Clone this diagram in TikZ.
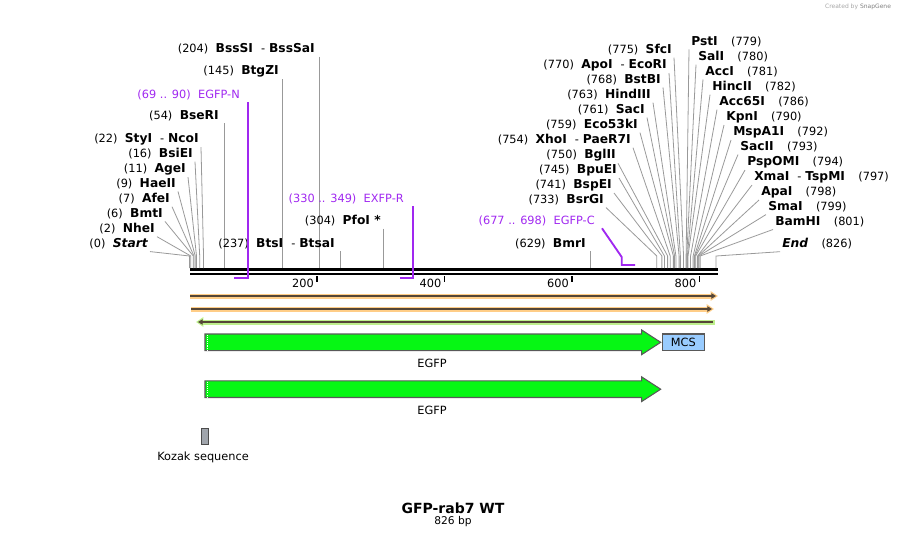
\documentclass[tikz,border=0pt]{standalone}
\usepackage{fontspec}
\setmainfont{DejaVu Sans}
\usetikzlibrary{arrows.meta,calc}
\definecolor{primer}{RGB}{160,40,240}
\definecolor{fwdband}{RGB}{255,205,135}
\definecolor{revband}{RGB}{190,240,140}
\definecolor{bandline}{RGB}{85,70,55}
\definecolor{cdsgreen}{RGB}{6,247,20}
\definecolor{mcsblue}{RGB}{153,204,255}
\definecolor{kozakgrey}{RGB}{160,165,172}
\newcommand\en[1]{{\fontsize{9.2}{11}\selectfont\bfseries #1}}
\newcommand\sepdash{\hspace{6pt}-\hspace{3pt}}

\begin{document}
\begin{tikzpicture}[x=0.75pt,y=-0.75pt,
  lbl/.style={font=\fontsize{8.5}{10}\selectfont, inner sep=1.5pt},
  lead/.style={gray!80, line width=0.6pt},
  primerline/.style={primer, line width=1.4pt},
  band/.style={#1, line width=3.75pt, -{Triangle[length=5.5pt,width=7pt]}},
  bandcore/.style={bandline, line width=1.4pt, -{Triangle[length=3.5pt,width=4pt]}},
  cds/.style={draw=black!65, fill=cdsgreen, line width=0.8pt}]
\useasboundingbox (0,0) rectangle (909,539);
\coordinate (axis) at (0,268);

\draw[line width=2.4pt] (190,269.5) -- (718,269.5);
\draw[line width=1.5pt] (190,273.8) -- (718,273.8);
\foreach \t in {200,400,600,800}{
  \coordinate (t\t) at ({189.5+0.6375*\t},276);
  \draw[line width=1.1pt] (t\t) -- ++(0,6);
  \node[lbl,anchor=east] (tl\t) at ({188.5+0.6375*\t},283) {\t};
}

\foreach \nid/\bpos/\lname/\ly/\lx in {
  start/0/{\en{\itshape Start}}/244/150,
  nhe/2/\en{NheI}/229/157,
  bmt/6/\en{BmtI}/214/165,
  afe/7/\en{AfeI}/199/172,
  hae/9/\en{HaeII}/184/178,
  age/11/\en{AgeI}/169/188,
  bsie/16/\en{BsiEI}/154/195,
  sty/22/{\en{StyI}\sepdash\en{NcoI}}/139/201,
  sfc/775/\en{SfcI}/50/674,
  apo/770/{\en{ApoI}\sepdash\en{EcoRI}}/65/669,
  bstb/768/\en{BstBI}/80/663,
  hind/763/\en{HindIII}/95/653,
  sac/761/\en{SacI}/110/647,
  eco/759/\en{Eco53kI}/125/640,
  xho/754/{\en{XhoI}\sepdash\en{PaeR7I}}/140/633,
  bgl/750/\en{BglII}/155/618,
  bpu/745/\en{BpuEI}/170/619,
  bspe/741/\en{BspEI}/185/614,
  bsrg/733/\en{BsrGI}/200/606}{
  \node[lbl,anchor=east] (\nid) at (\lx,\ly) {(\bpos)\hspace{5.5pt}\lname};
  \coordinate (\nid-f) at ({189.5+0.6375*\bpos},256);
  \draw[lead] (\nid.south east) -- (\nid-f) -- (\nid-f |- axis);
}

\foreach \nid/\bpos/\lname/\ly/\lx in {
  pst/779/\en{PstI}/42/689,
  sal/780/\en{SalI}/57/696,
  acc/781/\en{AccI}/72/703,
  hinc/782/\en{HincII}/87/710,
  acc65/786/\en{Acc65I}/102/717,
  kpn/790/\en{KpnI}/117/724,
  msp/792/\en{MspA1I}/132/731,
  sacii/793/\en{SacII}/147/738,
  psp/794/\en{PspOMI}/162/745,
  xma/797/{\en{XmaI}\sepdash\en{TspMI}}/177/752,
  apa/798/\en{ApaI}/192/759,
  sma/799/\en{SmaI}/207/766,
  bam/801/\en{BamHI}/222/773,
  end/826/{\en{\itshape End}}/244/780}{
  \node[lbl,anchor=west] (\nid) at (\lx,\ly) {\lname\hspace{10pt}(\bpos)};
  \coordinate (\nid-f) at ({189.5+0.6375*\bpos},256);
  \draw[lead] (\nid.south west) -- (\nid-f) -- (\nid-f |- axis);
}

\foreach \nid/\bpos/\lname/\ly/\lx in {
  bse/54/\en{BseRI}/116/221,
  btg/145/\en{BtgZI}/71/281,
  bss/204/{\en{BssSI}\sepdash\en{BssSaI}}/49/317,
  bts/237/{\en{BtsI}\sepdash\en{BtsaI}}/244/337,
  pfo/304/\en{PfoI *}/221/383,
  bmr/629/\en{BmrI}/244/588}{
  \node[lbl,anchor=east] (\nid) at (\lx,\ly) {(\bpos)\hspace{5.5pt}\lname};
  \coordinate (\nid-f) at ({189.5+0.6375*\bpos},256);
  \draw[lead] (\nid.south -| \nid-f) -- (\nid-f |- axis);
}

\node[lbl,primer,anchor=east] (egfpn) at (242,95) {(69 .. 90)\hspace{5.5pt}EGFP-N};
\node[lbl,primer,anchor=east] (exfpr) at (406,199) {(330 .. 349)\hspace{5.5pt}EXFP-R};
\node[lbl,primer,anchor=east] (egfpc) at (597,221) {(677 .. 698)\hspace{5.5pt}EGFP-C};
\coordinate (pn) at (247.7,278);
\coordinate (pr) at (413,278);
\coordinate (pc) at (621.7,257);
\draw[primerline] (egfpn.south -| pn) -- (pn) -- (233.5,278);
\draw[primerline] (exfpr.south -| pr) -- (pr) -- (400,278);
\draw[primerline] ($(egfpc.south east)+(5,0)$) -- (pc) -- (621.7,265) -- (635,265);

\draw[band=fwdband] (190,296) -- (718,296);
\draw[bandcore] (190,296) -- (716,296);
\draw[band=fwdband] (191,309) -- (714,309);
\draw[bandcore] (191,309) -- (712,309);
\draw[band=revband] (715,322) -- (196,322);
\draw[bandcore] (713,322) -- (198,322);

\foreach \cy/\cid in {342.3/cdsa,389.2/cdsb}{
  \draw[cds] (205,{\cy-8.3}) -- (641.7,{\cy-8.3}) -- (641.7,{\cy-12.3}) -- (660.7,\cy)
    -- (641.7,{\cy+12.3}) -- (641.7,{\cy+8.3}) -- (205,{\cy+8.3}) -- cycle;
  \draw[white, line width=1.2pt, dash pattern=on 0.8pt off 0.8pt] (207.5,{\cy-7.5}) -- (207.5,{\cy+7.5});
  \node[lbl] (\cid) at (432,{\cy+21}) {EGFP};
}
\node[draw=black!65, fill=mcsblue, line width=0.8pt, minimum width=31.5pt, minimum height=12.5pt,
  inner sep=0pt, font=\fontsize{8.5}{10}\selectfont] (mcs) at (683.3,342.3) {MCS};

\node[draw=black!70, fill=kozakgrey, line width=0.6pt, minimum width=4.9pt, minimum height=12pt,
  inner sep=0pt] (kozak) at (205,436) {};
\node[lbl] (kozaklbl) at (203,457) {Kozak sequence};

\node[font=\fontsize{10.5}{12}\selectfont\bfseries] (title) at (453,508) {GFP-rab7 WT};
\node[lbl,font=\fontsize{8}{9}\selectfont] (length) at (453,522) {826 bp};
\node[font=\fontsize{4.5}{5}\selectfont, text=gray!70] (credit) at (858,7) {Created by \textcolor{gray}{SnapGene}};
\end{tikzpicture}
\end{document}
